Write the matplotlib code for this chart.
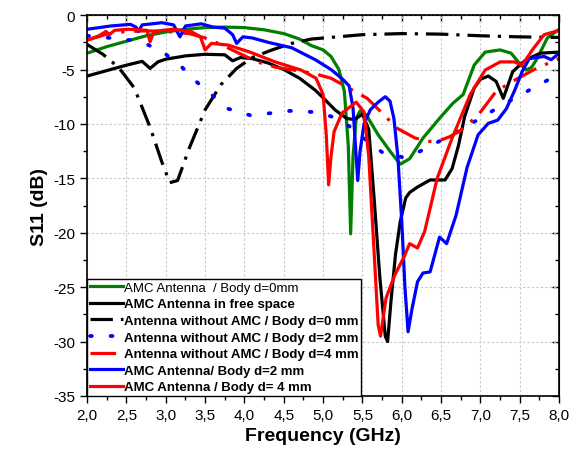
import numpy as np
import matplotlib
matplotlib.use("Agg")
import matplotlib.pyplot as plt
from matplotlib.ticker import MultipleLocator, FuncFormatter

plt.rcParams["font.family"] = ["Liberation Sans", "DejaVu Sans"]

# AMC Antenna / Body d=0mm (green)
f_green = [2.0, 2.25, 2.5, 2.75, 3.0, 3.25, 3.5, 3.75, 4.0, 4.25, 4.5, 4.7, 4.85, 5.0,
           5.1, 5.2, 5.27, 5.32, 5.35, 5.38, 5.42, 5.47, 5.55, 5.7, 5.85, 5.98, 6.1,
           6.27, 6.49, 6.65, 6.78, 6.92, 7.06, 7.25, 7.39, 7.48, 7.58, 7.65, 7.72, 7.85, 8.0]
s_green = [-3.5, -2.9, -2.4, -1.9, -1.55, -1.3, -1.15, -1.1, -1.15, -1.35, -1.7, -2.2, -2.8,
           -3.2, -3.8, -5.0, -7.0, -12.0, -20.1, -13.0, -9.5, -8.8, -9.2, -11.0, -12.5,
           -13.7, -13.2, -11.3, -9.4, -8.1, -7.3, -4.6, -3.4, -3.2, -3.5, -4.3, -5.05, -4.8,
           -4.0, -2.1, -1.3]

# AMC Antenna in free space (black)
f_black = [2.0, 2.25, 2.5, 2.7, 2.8, 2.9, 3.0, 3.25, 3.5, 3.75, 3.85, 3.95, 4.1, 4.3, 4.5,
           4.7, 4.9, 5.0, 5.15, 5.3, 5.4, 5.5, 5.58, 5.65, 5.72, 5.79, 5.82, 5.86, 5.92,
           5.98, 6.05, 6.1, 6.2, 6.36, 6.55, 6.64, 6.72, 6.8, 6.92, 7.0, 7.1, 7.2, 7.29,
           7.41, 7.5, 7.58, 7.76, 8.0]
s_black = [-5.6, -5.1, -4.6, -4.25, -4.9, -4.3, -4.05, -3.75, -3.6, -3.65, -4.2, -3.9, -4.0,
           -4.4, -5.0, -5.8, -6.9, -7.6, -8.7, -9.5, -9.6, -9.1, -10.5, -17.0, -24.0, -29.5,
           -30.0, -26.5, -22.0, -19.0, -16.8, -16.3, -15.8, -15.15, -15.15, -14.1, -12.0,
           -9.3, -6.7, -5.9, -5.6, -6.1, -7.65, -5.2, -4.6, -4.1, -3.5, -3.4]

# Antenna without AMC / Body d=0 mm (black dash-dot)
f_noamc0 = [2.0, 2.2, 2.4, 2.6, 2.8, 2.95, 3.05, 3.15, 3.3, 3.5, 3.7, 3.9, 4.1, 4.35, 4.6,
            4.85, 5.1, 5.5, 6.0, 6.5, 7.0, 7.5, 8.0]
s_noamc0 = [-2.7, -3.6, -4.8, -6.7, -10.3, -13.5, -15.4, -15.2, -12.2, -8.7, -6.4, -4.9,
            -3.9, -3.2, -2.6, -2.2, -2.05, -1.8, -1.7, -1.75, -1.9, -2.0, -2.05]

# Antenna without AMC / Body d=2 mm (blue dotted)
f_noamc2 = [2.0, 2.29, 2.55, 2.78, 3.0, 3.18, 3.37, 3.58, 3.79, 4.07, 4.35, 4.58, 4.86,
            5.1, 5.33, 5.55, 5.75, 6.03, 6.27, 6.5, 6.73, 6.97, 7.2, 7.43, 7.67, 7.9, 8.0]
s_noamc2 = [-1.9, -2.1, -2.3, -2.75, -3.6, -4.6, -6.0, -7.3, -8.6, -9.2, -9.0, -8.8, -8.9,
            -9.3, -10.2, -11.5, -12.6, -13.1, -12.4, -11.5, -10.6, -9.6, -8.6, -7.65,
            -6.7, -5.8, -5.5]

# Antenna without AMC / Body d=4 mm (red dash-dot)
f_noamc4 = [2.0, 2.25, 2.5, 2.75, 3.0, 3.3, 3.5, 3.7, 3.9, 4.16, 4.4, 4.63, 4.9, 5.1,
            5.3, 5.56, 5.75, 5.94, 6.17, 6.35, 6.45, 6.6, 6.73, 6.97, 7.2, 7.43, 7.67,
            7.9, 8.0]
s_noamc4 = [-2.3, -1.75, -1.5, -1.45, -1.5, -1.7, -2.1, -2.7, -3.4, -4.3, -4.8, -5.05,
            -5.4, -5.8, -6.6, -7.65, -9.0, -10.4, -11.3, -11.6, -11.6, -11.2, -10.7,
            -9.2, -7.0, -6.0, -5.05, -4.3, -4.0]

# AMC Antenna/ Body d=2 mm (blue)
f_amc2 = [2.0, 2.3, 2.55, 2.62, 2.65, 2.7, 2.95, 3.1, 3.18, 3.25, 3.45, 3.6, 3.75, 3.85,
          3.9, 3.98, 4.1, 4.3, 4.6, 4.9, 5.1, 5.25, 5.33, 5.38, 5.42, 5.44, 5.47, 5.52,
          5.6, 5.7, 5.79, 5.85, 5.9, 5.95, 6.0, 6.04, 6.08, 6.13, 6.2, 6.27, 6.36, 6.48,
          6.57, 6.69, 6.83, 6.97, 7.1, 7.22, 7.33, 7.43, 7.53, 7.62, 7.81, 7.9, 8.0]
s_amc2 = [-1.3, -1.0, -0.85, -1.1, -1.5, -0.9, -0.7, -0.9, -2.0, -1.0, -0.8, -1.1, -1.2,
          -1.8, -2.6, -2.0, -2.1, -2.5, -3.0, -4.1, -5.0, -5.9, -6.5, -8.5, -13.0, -15.2,
          -12.5, -10.0, -8.7, -8.0, -7.5, -7.9, -9.5, -13.0, -19.0, -25.0, -29.1, -27.0,
          -24.5, -23.7, -23.6, -20.4, -21.0, -18.4, -14.0, -11.0, -9.95, -9.65, -8.6,
          -7.0, -5.2, -4.0, -3.8, -4.1, -3.5]

# AMC Antenna / Body d= 4 mm (red)
f_amc4 = [2.0, 2.15, 2.24, 2.28, 2.35, 2.52, 2.76, 2.8, 2.85, 3.08, 3.32, 3.44, 3.5, 3.58,
          3.79, 4.07, 4.39, 4.72, 4.91, 5.0, 5.04, 5.07, 5.1, 5.14, 5.24, 5.42, 5.52,
          5.58, 5.65, 5.7, 5.73, 5.8, 5.91, 6.03, 6.1, 6.2, 6.29, 6.45, 6.64, 6.87,
          7.06, 7.25, 7.43, 7.53, 7.67, 7.81, 8.0]
s_amc4 = [-2.3, -1.9, -1.5, -1.8, -1.4, -1.3, -1.4, -2.45, -1.5, -1.3, -1.5, -2.0, -3.2,
          -2.6, -2.75, -3.4, -4.3, -5.05, -5.8, -7.3, -11.0, -15.6, -13.0, -10.7, -9.0,
          -8.0, -8.9, -13.0, -22.0, -28.5, -29.5, -26.0, -23.9, -22.2, -21.0, -21.4,
          -19.9, -15.0, -11.3, -7.3, -5.05, -4.3, -4.3, -4.6, -3.1, -1.8, -1.4]

x_ticks = [2.0, 2.5, 3.0, 3.5, 4.0, 4.5, 5.0, 5.5, 6.0, 6.5, 7.0, 7.5, 8.0]
y_ticks = [0, -5, -10, -15, -20, -25, -30, -35]

fig, ax = plt.subplots(figsize=(5.77, 4.60), dpi=100)
fig.subplots_adjust(left=0.151, right=0.969, top=0.965, bottom=0.137)

lw = 2.3
ax.plot(f_green, s_green, color="#008000", lw=lw, label="AMC Antenna  / Body d=0mm")
ax.plot(f_black, s_black, color="black", lw=lw, label="AMC Antenna in free space")
ax.plot(f_noamc0, s_noamc0, color="black", lw=lw, linestyle=(0, (7, 2.5, 1, 2.5)),
        label="Antenna without AMC / Body d=0 mm")
ax.plot(f_noamc2, s_noamc2, color="#0000ff", lw=lw + 0.4, linestyle=(0, (0.5, 5)),
        dash_capstyle="round", label="Antenna without AMC / Body d=2 mm")
ax.plot(f_noamc4, s_noamc4, color="#ff0000", lw=lw, linestyle=(0, (8, 3, 1, 3)),
        label="Antenna without AMC / Body d=4 mm")
ax.plot(f_amc2, s_amc2, color="#0000ff", lw=lw, label="AMC Antenna/ Body d=2 mm")
ax.plot(f_amc4, s_amc4, color="#ff0000", lw=lw, label="AMC Antenna / Body d= 4 mm")

ax.set_xlim(2.0, 8.0)
ax.set_ylim(-35, 0)
ax.set_xticks(x_ticks)
ax.set_yticks(y_ticks)
ax.xaxis.set_minor_locator(MultipleLocator(0.25))
ax.yaxis.set_minor_locator(MultipleLocator(2.5))
ax.xaxis.set_major_formatter(FuncFormatter(lambda v, p: f"{v:.1f}".replace(".", ",")))
ax.yaxis.set_major_formatter(FuncFormatter(lambda v, p: f"{v:.0f}"))
ax.tick_params(axis="both", which="major", labelsize=11, length=5, width=1, direction="out")
ax.tick_params(axis="both", which="minor", length=3, width=1, direction="out")
ax.grid(True, which="major", linestyle=(0, (2, 2)), color="#c8c8c8", lw=0.8)

# top and right ticks point inward
top = ax.secondary_xaxis("top")
top.set_xticks(x_ticks)
top.xaxis.set_minor_locator(MultipleLocator(0.25))
top.tick_params(which="major", direction="in", length=5, width=1, labeltop=False)
top.tick_params(which="minor", direction="in", length=3, width=1)
right = ax.secondary_yaxis("right")
right.set_yticks(y_ticks)
right.yaxis.set_minor_locator(MultipleLocator(2.5))
right.tick_params(which="major", direction="in", length=5, width=1, labelright=False)
right.tick_params(which="minor", direction="in", length=3, width=1)

for sp in ax.spines.values():
    sp.set_linewidth(1.2)

ax.set_xlabel("Frequency (GHz)", fontsize=14, fontweight="bold")
ax.set_ylabel("S11 (dB)", fontsize=14, fontweight="bold")

leg = ax.legend(loc="lower left", borderaxespad=0, fancybox=False, edgecolor="black",
                fontsize=9.5, handlelength=2.5, handletextpad=0.1, labelspacing=0.33,
                borderpad=0.2, framealpha=1)
leg.get_frame().set_linewidth(1.0)
for i, txt in enumerate(leg.get_texts()):
    if i > 0:
        txt.set_fontweight("bold")

fig.savefig("out.png", dpi=100)
